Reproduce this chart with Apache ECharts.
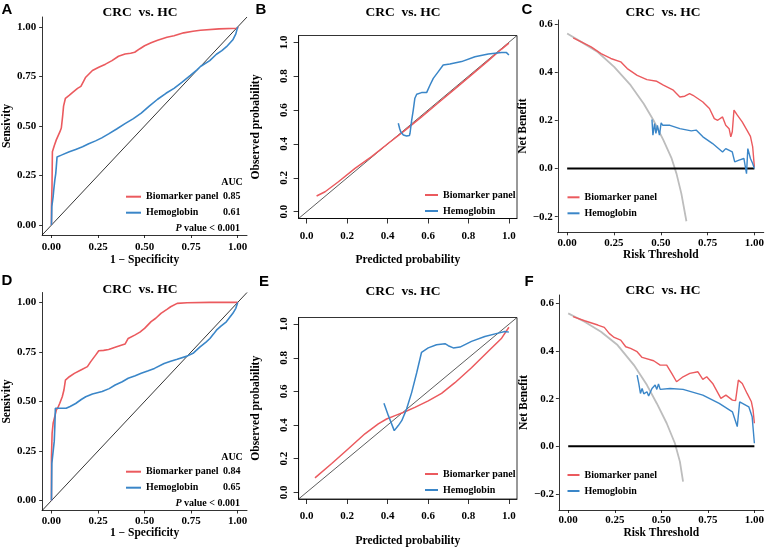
<!DOCTYPE html>
<meta charset="utf-8">
<style>
html, body { margin: 0; padding: 0; background: #fff; }
#main { width: 767px; height: 548px; }
</style>
<div id="main"></div>
<script src="https://cdn.jsdelivr.net/npm/echarts@6/dist/echarts.min.js"></script>
<script>
var RED = '#EB5A5E', BLUE = '#3A86C8';
var SERIF = '"Liberation Serif", "Times New Roman", serif';

// tick labels
var rocTicks = [0, 0.25, 0.5, 0.75, 1];
var calTicks = [0, 0.2, 0.4, 0.6, 0.8, 1];
var dcaXTicks = [0, 0.25, 0.5, 0.75, 1];
var dcaYTicks = [-0.2, 0, 0.2, 0.4, 0.6];
var names = ['Biomarker panel', 'Hemoglobin'];
var aucTop = [0.85, 0.61];
var aucBottom = [0.84, 0.65];

// A: ROC, cohort 1  [1 - specificity, sensitivity]
var rocA_panel = [[0,0],[0,0.09],[0.003,0.09],[0.003,0.2],[0.005,0.37],[0.015,0.40],[0.026,0.43],[0.045,0.47],[0.053,0.49],[0.06,0.55],[0.065,0.6],[0.075,0.64],[0.095,0.655],[0.114,0.67],[0.14,0.69],[0.158,0.70],[0.175,0.73],[0.184,0.746],[0.22,0.78],[0.254,0.796],[0.29,0.812],[0.325,0.83],[0.36,0.852],[0.395,0.863],[0.425,0.867],[0.447,0.872],[0.475,0.89],[0.5,0.905],[0.535,0.92],[0.57,0.933],[0.62,0.948],[0.658,0.955],[0.71,0.97],[0.76,0.978],[0.8,0.983],[0.9,0.99],[1,0.993],[1,1]];
var rocA_hb = [[0,0],[0.002,0.094],[0.009,0.144],[0.012,0.175],[0.018,0.227],[0.023,0.26],[0.026,0.294],[0.03,0.344],[0.04,0.35],[0.053,0.353],[0.096,0.37],[0.13,0.382],[0.167,0.395],[0.2,0.41],[0.237,0.425],[0.27,0.44],[0.307,0.46],[0.35,0.485],[0.395,0.512],[0.44,0.537],[0.482,0.565],[0.525,0.6],[0.57,0.635],[0.615,0.665],[0.658,0.69],[0.7,0.72],[0.746,0.755],[0.78,0.782],[0.8,0.8],[0.85,0.83],[0.886,0.862],[0.915,0.88],[0.94,0.9],[0.974,0.935],[0.99,0.965],[1,1]];

// D: ROC, cohort 2
var rocD_panel = [[0,0],[0,0.22],[0.0035,0.34],[0.009,0.39],[0.018,0.424],[0.026,0.457],[0.035,0.47],[0.044,0.49],[0.058,0.524],[0.067,0.558],[0.075,0.608],[0.096,0.625],[0.123,0.642],[0.158,0.659],[0.193,0.676],[0.21,0.70],[0.237,0.734],[0.254,0.756],[0.28,0.758],[0.307,0.762],[0.35,0.776],[0.395,0.79],[0.412,0.818],[0.447,0.835],[0.475,0.85],[0.5,0.869],[0.535,0.903],[0.56,0.92],[0.588,0.945],[0.62,0.965],[0.64,0.978],[0.675,0.995],[0.728,0.998],[0.85,1],[1,1]];
var rocD_hb = [[0,0],[0.002,0.188],[0.012,0.19],[0.015,0.3],[0.018,0.373],[0.021,0.466],[0.079,0.466],[0.1,0.475],[0.13,0.49],[0.16,0.51],[0.184,0.524],[0.22,0.538],[0.272,0.55],[0.31,0.565],[0.342,0.583],[0.38,0.6],[0.412,0.617],[0.45,0.63],[0.482,0.642],[0.52,0.655],[0.553,0.667],[0.605,0.692],[0.64,0.703],[0.675,0.713],[0.728,0.729],[0.763,0.745],[0.798,0.776],[0.83,0.8],[0.851,0.818],[0.87,0.84],[0.886,0.86],[0.91,0.88],[0.939,0.902],[0.974,0.945],[0.99,0.97],[1,1]];

// B / E: calibration [predicted, observed]
var calB_panel = [[0.049,0.093],[0.091,0.118],[0.157,0.177],[0.239,0.256],[0.321,0.325],[0.404,0.404],[0.486,0.48],[0.568,0.56],[0.651,0.643],[0.733,0.725],[0.815,0.808],[0.898,0.892],[0.964,0.96],[1,0.995]];
var calB_hb = [[0.453,0.522],[0.46,0.49],[0.465,0.472],[0.478,0.453],[0.486,0.463],[0.494,0.447],[0.502,0.443],[0.508,0.45],[0.511,0.463],[0.518,0.53],[0.527,0.6],[0.535,0.67],[0.544,0.693],[0.568,0.703],[0.593,0.703],[0.61,0.748],[0.626,0.787],[0.651,0.827],[0.675,0.866],[0.708,0.872],[0.766,0.886],[0.832,0.915],[0.898,0.931],[0.964,0.939],[0.988,0.939],[1,0.925]];
var calE_panel = [[0.041,0.086],[0.124,0.171],[0.206,0.259],[0.288,0.348],[0.354,0.407],[0.395,0.436],[0.437,0.456],[0.486,0.479],[0.535,0.505],[0.601,0.544],[0.667,0.589],[0.733,0.652],[0.815,0.741],[0.898,0.839],[0.964,0.917],[1,0.982]];
var calE_hb = [[0.382,0.53],[0.404,0.456],[0.433,0.367],[0.453,0.397],[0.47,0.426],[0.494,0.495],[0.519,0.593],[0.544,0.711],[0.568,0.833],[0.601,0.859],[0.642,0.878],[0.684,0.884],[0.7,0.872],[0.725,0.859],[0.758,0.864],[0.815,0.898],[0.881,0.927],[0.947,0.947],[0.98,0.957],[1,0.953]];

// C / F: decision curves [threshold, net benefit]
var dcaC_all = [[0,0.562],[0.075,0.527],[0.163,0.485],[0.251,0.423],[0.339,0.347],[0.409,0.27],[0.461,0.201],[0.514,0.118],[0.558,0.042],[0.584,-0.021],[0.61,-0.104],[0.637,-0.219]];
var dcaC_panel = [[0.032,0.544],[0.075,0.527],[0.128,0.506],[0.181,0.478],[0.233,0.458],[0.286,0.444],[0.321,0.416],[0.374,0.388],[0.426,0.37],[0.479,0.363],[0.514,0.347],[0.567,0.326],[0.602,0.298],[0.628,0.301],[0.654,0.312],[0.672,0.305],[0.725,0.277],[0.76,0.25],[0.786,0.208],[0.804,0.201],[0.83,0.215],[0.847,0.18],[0.865,0.166],[0.874,0.132],[0.882,0.153],[0.891,0.243],[0.909,0.222],[0.935,0.194],[0.961,0.159],[0.979,0.134],[0.991,0.09],[1,0.007]];
var dcaC_hb = [[0.453,0.204],[0.458,0.139],[0.467,0.187],[0.474,0.146],[0.482,0.18],[0.493,0.139],[0.502,0.19],[0.511,0.18],[0.549,0.18],[0.602,0.166],[0.663,0.157],[0.689,0.16],[0.725,0.132],[0.777,0.104],[0.83,0.069],[0.847,0.083],[0.882,0.069],[0.895,0.028],[0.918,0.035],[0.944,0.042],[0.958,-0.021],[0.965,0.083],[0.979,0.042],[0.991,0.021],[1,0]];
var dcaF_all = [[0,0.558],[0.088,0.523],[0.176,0.481],[0.265,0.425],[0.353,0.341],[0.423,0.257],[0.476,0.18],[0.529,0.097],[0.573,0.013],[0.6,-0.064],[0.617,-0.148]];
var dcaF_panel = [[0.026,0.544],[0.088,0.527],[0.159,0.509],[0.194,0.499],[0.22,0.474],[0.247,0.457],[0.282,0.446],[0.309,0.418],[0.335,0.411],[0.37,0.397],[0.397,0.373],[0.406,0.365],[0.459,0.359],[0.494,0.341],[0.529,0.341],[0.556,0.306],[0.582,0.271],[0.617,0.292],[0.653,0.306],[0.697,0.313],[0.723,0.281],[0.744,0.292],[0.776,0.264],[0.82,0.201],[0.847,0.215],[0.882,0.194],[0.899,0.192],[0.914,0.278],[0.935,0.264],[0.961,0.222],[0.984,0.187],[0.993,0.152],[1,0.097]];
var dcaF_hb = [[0.37,0.299],[0.379,0.264],[0.388,0.222],[0.397,0.243],[0.406,0.22],[0.423,0.229],[0.432,0.211],[0.45,0.243],[0.467,0.257],[0.476,0.239],[0.485,0.262],[0.494,0.239],[0.547,0.243],[0.617,0.239],[0.723,0.215],[0.811,0.18],[0.882,0.145],[0.908,0.083],[0.921,0.187],[0.97,0.166],[0.988,0.124],[1,0.013]];
var dcaNone = [[0,0],[1,0]];

var rocDiag = [[-0.05,-0.05],[1.05,1.05]];
var calDiag = [[-0.04,-0.04],[1.04,1.04]];

var tickFont = { fontFamily: SERIF, fontWeight: 'bold', fontSize: 11, color: '#000' };
var nameFont = { fontFamily: SERIF, fontWeight: 'bold', fontSize: 11.5, color: '#000' };

function fmt(d) {
    return function (v) {
        var s = Math.abs(v).toFixed(d);
        return v < -1e-9 ? '\u2212' + s : s;
    };
}

function axis(grid, opt) {
    return {
        type: 'value', gridIndex: grid, min: opt.min, max: opt.max,
        name: opt.name, nameLocation: 'middle', nameGap: opt.gap, nameTextStyle: nameFont,
        splitLine: { show: false },
        axisLine: { show: true, onZero: false, lineStyle: { color: '#000', width: 0.8 } },
        axisTick: { show: true, customValues: opt.ticks, length: opt.tickLen || 3, lineStyle: { color: '#000', width: 0.8 } },
        axisLabel: Object.assign({ customValues: opt.ticks, margin: opt.margin, rotate: opt.rotate || 0, formatter: fmt(opt.dec) }, tickFont)
    };
}

function line(name, data, x, color, width) {
    return {
        type: 'line', name: name, data: data, xAxisIndex: x, yAxisIndex: x,
        showSymbol: false, symbol: 'none', silent: true,
        lineStyle: { color: color, width: width }, itemStyle: { color: color }
    };
}

var grids = [
    { left: 39, top: 17, width: 208, height: 218 },
    { left: 298.6, top: 35.5, width: 218.4, height: 183, show: true, borderColor: '#000', borderWidth: 0.8 },
    { left: 557.8, top: 20, width: 209, height: 212.3 },
    { left: 39, top: 292.5, width: 208, height: 218 },
    { left: 298.6, top: 317.5, width: 218.4, height: 183.3, show: true, borderColor: '#000', borderWidth: 0.8 },
    { left: 558.9, top: 295, width: 207.9, height: 215 }
];

var xAxes = [
    axis(0, { min: -0.05, max: 1.05, ticks: rocTicks, dec: 2, name: '1 \u2212 Specificity', gap: 16, margin: 7 }),
    axis(1, { min: -0.04, max: 1.04, ticks: calTicks, dec: 1, name: 'Predicted probability', gap: 36, margin: 12, tickLen: 5 }),
    axis(2, { min: -0.05, max: 1.05, ticks: dcaXTicks, dec: 2, name: 'Risk Threshold', gap: 17, margin: 5 }),
    axis(3, { min: -0.05, max: 1.05, ticks: rocTicks, dec: 2, name: '1 \u2212 Specificity', gap: 16, margin: 5 }),
    axis(4, { min: -0.04, max: 1.04, ticks: calTicks, dec: 1, name: 'Predicted probability', gap: 36, margin: 12, tickLen: 5 }),
    axis(5, { min: -0.05, max: 1.05, ticks: dcaXTicks, dec: 2, name: 'Risk Threshold', gap: 16, margin: 5 })
];
var yAxes = [
    axis(0, { min: -0.05, max: 1.05, ticks: rocTicks, dec: 2, name: 'Sensivity', gap: 27, margin: 6 }),
    axis(1, { min: -0.04, max: 1.04, ticks: calTicks, dec: 1, name: 'Observed probability', gap: 37, margin: 9, tickLen: 5, rotate: 90 }),
    axis(2, { min: -0.265, max: 0.618, ticks: dcaYTicks, dec: 1, name: 'Net Benefit', gap: 27, margin: 5 }),
    axis(3, { min: -0.05, max: 1.05, ticks: rocTicks, dec: 2, name: 'Sensivity', gap: 27, margin: 6 }),
    axis(4, { min: -0.04, max: 1.04, ticks: calTicks, dec: 1, name: 'Observed probability', gap: 37, margin: 9, tickLen: 5, rotate: 90 }),
    axis(5, { min: -0.267, max: 0.635, ticks: dcaYTicks, dec: 1, name: 'Net Benefit', gap: 27, margin: 5 })
];

var series = [
    line('diag', rocDiag, 0, '#000', 0.8),
    line(names[0], rocA_panel, 0, RED, 1.6),
    line(names[1], rocA_hb, 0, BLUE, 1.6),
    line('diag', calDiag, 1, '#333', 0.8),
    line(names[0], calB_panel, 1, RED, 1.5),
    line(names[1], calB_hb, 1, BLUE, 1.5),
    line('all', dcaC_all, 2, '#BDBDBD', 1.8),
    line('none', dcaNone, 2, '#000', 2),
    line(names[0], dcaC_panel, 2, RED, 1.4),
    line(names[1], dcaC_hb, 2, BLUE, 1.4),
    line('diag', rocDiag, 3, '#000', 0.8),
    line(names[0], rocD_panel, 3, RED, 1.6),
    line(names[1], rocD_hb, 3, BLUE, 1.6),
    line('diag', calDiag, 4, '#333', 0.8),
    line(names[0], calE_panel, 4, RED, 1.5),
    line(names[1], calE_hb, 4, BLUE, 1.5),
    line('all', dcaF_all, 5, '#BDBDBD', 1.8),
    line('none', dcaNone, 5, '#000', 2),
    line(names[0], dcaF_panel, 5, RED, 1.4),
    line(names[1], dcaF_hb, 5, BLUE, 1.4)
];

function legend(left, top, w, auc) {
    var lg = {
        data: names, orient: 'vertical', left: left, top: top, itemGap: 2,
        icon: 'rect', itemWidth: w, itemHeight: 2, selectedMode: false, padding: 0,
        textStyle: { fontFamily: SERIF, fontWeight: 'bold', fontSize: 10, color: '#000', lineHeight: 14 }
    };
    if (auc) {
        lg.formatter = function (n) { return '{n|' + n + '}{v|' + auc[names.indexOf(n)].toFixed(2) + '}'; };
        lg.textStyle.rich = {
            n: { width: 77, fontFamily: SERIF, fontWeight: 'bold', fontSize: 10 },
            v: { fontFamily: SERIF, fontWeight: 'bold', fontSize: 10 }
        };
    }
    return lg;
}

function txt(x, y, s, font, align, rich) {
    return { type: 'text', x: x, y: y, silent: true,
        style: { text: s, font: font, fill: '#000', align: align || 'center', verticalAlign: 'middle', rich: rich } };
}

var titleFont = 'bold 13.5px ' + SERIF;
var letterFont = 'bold 15px "Liberation Sans", Arial, sans-serif';
var smallFont = 'bold 10px ' + SERIF;
var pRich = { i: { fontStyle: 'italic', fontWeight: 'bold', fontFamily: SERIF, fontSize: 10 },
              t: { fontWeight: 'bold', fontFamily: SERIF, fontSize: 10 } };
var pText = '{i|P}{t| value < 0.001}';

var graphics = [
    txt(7, 10, 'A', letterFont), txt(261, 10, 'B', letterFont), txt(527, 10, 'C', letterFont),
    txt(7, 281, 'D', letterFont), txt(264, 282, 'E', letterFont), txt(529, 282, 'F', letterFont),
    txt(140, 13, 'CRC  vs. HC', titleFont), txt(403, 13, 'CRC  vs. HC', titleFont), txt(663, 13, 'CRC  vs. HC', titleFont),
    txt(140, 290, 'CRC  vs. HC', titleFont), txt(403, 292, 'CRC  vs. HC', titleFont), txt(663, 291, 'CRC  vs. HC', titleFont),
    txt(232, 182, 'AUC', smallFont), txt(232, 457, 'AUC', smallFont),
    txt(240, 228, pText, smallFont, 'right', pRich), txt(240, 503, pText, smallFont, 'right', pRich)
];

var chart = echarts.init(document.getElementById('main'), null, { renderer: 'canvas' });
chart.setOption({
    animation: false,
    backgroundColor: '#fff',
    grid: grids,
    xAxis: xAxes,
    yAxis: yAxes,
    legend: [
        legend(126, 189.7, 15, aucTop),
        legend(425, 188, 13),
        legend(567.5, 190.3, 12),
        legend(126, 464.7, 15, aucBottom),
        legend(425, 467, 13),
        legend(567.5, 468, 12)
    ],
    graphic: graphics,
    series: series
});
</script>
